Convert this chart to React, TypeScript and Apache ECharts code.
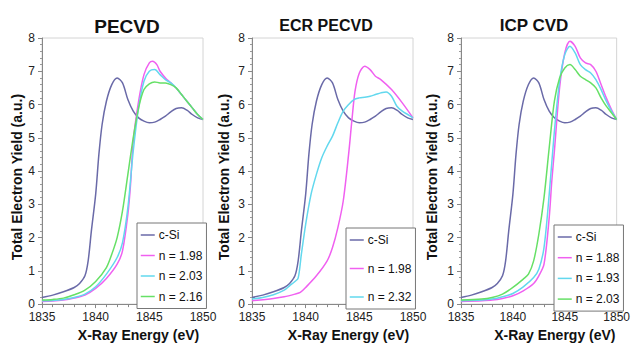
import React, { useEffect, useRef } from "react";
import * as echarts from "echarts";

const FONT = "Liberation Sans, Arial, sans-serif";

const COLOR_CSI = "#6a6aa8";
const COLOR_MAG = "#f060f0";
const COLOR_CYAN = "#62d8ee";
const COLOR_GREEN = "#66e066";

const panelTitles = ["PECVD", "ECR PECVD", "ICP CVD"];
const xTicks = [1835, 1840, 1845, 1850];

// c-Si reference (same in every panel)
const cSiX = [1835, 1836, 1837, 1838, 1838.5, 1839, 1839.3, 1839.6, 1840, 1840.3, 1840.6, 1841, 1841.5, 1842, 1842.5, 1843, 1843.5, 1844, 1844.5, 1845, 1845.5, 1846, 1846.5, 1847, 1847.5, 1848, 1848.5, 1849, 1849.5, 1850];
const cSiY = [0.2, 0.27, 0.37, 0.5, 0.62, 0.85, 1.3, 2.2, 3.3, 4.5, 5.4, 6.1, 6.6, 6.8, 6.65, 6.15, 5.8, 5.6, 5.5, 5.45, 5.47, 5.55, 5.65, 5.78, 5.88, 5.9, 5.83, 5.7, 5.6, 5.55];

// PECVD
const pecvd198X = [1835, 1836, 1837, 1838, 1839, 1840, 1841, 1842, 1842.5, 1843, 1843.25, 1843.5, 1844, 1844.5, 1845, 1845.3, 1845.7, 1846, 1846.5, 1847, 1847.5, 1848, 1848.5, 1849, 1849.5, 1850];
const pecvd198Y = [0.08, 0.09, 0.12, 0.18, 0.27, 0.47, 0.77, 1.2, 1.6, 2.7, 3.6, 4.9, 6.1, 6.9, 7.25, 7.3, 7.2, 7.0, 6.8, 6.65, 6.5, 6.3, 6.1, 5.9, 5.7, 5.55];
const pecvd203X = [1835, 1836, 1837, 1838, 1839, 1840, 1841, 1842, 1842.5, 1843, 1843.5, 1844, 1844.5, 1845, 1845.5, 1846, 1846.5, 1847, 1847.5, 1848, 1848.5, 1849, 1849.5, 1850];
const pecvd203Y = [0.1, 0.11, 0.14, 0.2, 0.3, 0.52, 0.9, 1.4, 1.85, 2.9, 4.6, 5.9, 6.7, 7.0, 7.05, 6.9, 6.75, 6.65, 6.5, 6.3, 6.1, 5.9, 5.7, 5.55];
const pecvd216X = [1835, 1836, 1837, 1838, 1839, 1840, 1841, 1841.5, 1842, 1842.5, 1843, 1843.5, 1844, 1844.5, 1845, 1845.5, 1846, 1846.5, 1847, 1847.5, 1848, 1848.5, 1849, 1849.5, 1850];
const pecvd216Y = [0.12, 0.14, 0.18, 0.28, 0.42, 0.68, 1.1, 1.5, 2.0, 2.8, 3.9, 5.0, 5.9, 6.45, 6.62, 6.68, 6.65, 6.65, 6.6, 6.5, 6.3, 6.1, 5.9, 5.7, 5.55];

// ECR PECVD
const ecr198X = [1835, 1837, 1838, 1839, 1839.5, 1840, 1841, 1842, 1842.5, 1843, 1843.5, 1844, 1844.3, 1844.6, 1845, 1845.5, 1846, 1846.5, 1847, 1848, 1849, 1850];
const ecr198Y = [0.1, 0.17, 0.22, 0.3, 0.35, 0.5, 0.85, 1.3, 1.7, 2.3, 3.1, 4.5, 5.5, 6.4, 6.95, 7.15, 7.05, 6.85, 6.75, 6.45, 6.05, 5.6];
const ecr232X = [1835, 1836, 1837, 1838, 1838.5, 1839, 1839.3, 1839.6, 1840, 1840.5, 1841, 1841.5, 1842, 1842.5, 1843, 1843.5, 1844, 1844.5, 1845, 1845.5, 1846, 1846.5, 1847, 1847.5, 1848, 1848.5, 1849, 1849.5, 1850];
const ecr232Y = [0.15, 0.2, 0.28, 0.42, 0.55, 0.68, 0.78, 1.5, 2.4, 3.3, 3.9, 4.4, 4.75, 5.05, 5.45, 5.8, 6.0, 6.15, 6.2, 6.22, 6.25, 6.3, 6.35, 6.38, 6.25, 5.95, 5.8, 5.7, 5.6];

// ICP CVD
const icp188X = [1835, 1837, 1838, 1839, 1840, 1841, 1842, 1842.5, 1843, 1843.5, 1843.75, 1844, 1844.5, 1845, 1845.5, 1846, 1846.5, 1847, 1847.5, 1848, 1848.5, 1849, 1849.5, 1850];
const icp188Y = [0.08, 0.1, 0.12, 0.17, 0.25, 0.4, 0.62, 0.85, 1.2, 2.6, 3.7, 4.6, 6.5, 7.55, 7.9, 7.75, 7.4, 7.25, 7.2, 7.0, 6.6, 6.2, 5.85, 5.55];
const icp193X = [1835, 1837, 1838, 1839, 1840, 1841, 1842, 1842.5, 1843, 1843.5, 1844, 1844.5, 1845, 1845.5, 1846, 1846.5, 1847, 1847.5, 1848, 1848.5, 1849, 1849.5, 1850];
const icp193Y = [0.1, 0.12, 0.15, 0.22, 0.32, 0.52, 0.8, 1.05, 1.7, 3.3, 5.2, 6.7, 7.5, 7.75, 7.55, 7.2, 7.05, 6.95, 6.75, 6.45, 6.1, 5.8, 5.55];
const icp203X = [1835, 1837, 1838, 1839, 1840, 1841, 1841.5, 1842, 1842.5, 1843, 1843.5, 1844, 1844.5, 1845, 1845.5, 1846, 1846.5, 1847, 1847.5, 1848, 1848.5, 1849, 1849.5, 1850];
const icp203Y = [0.12, 0.15, 0.2, 0.3, 0.5, 0.75, 0.9, 1.3, 2.1, 3.2, 4.7, 6.1, 6.8, 7.1, 7.2, 7.05, 6.85, 6.75, 6.65, 6.5, 6.2, 5.95, 5.75, 5.55];

type S = { name: string; color: string; xs: number[]; ys: number[] };

const panels: S[][] = [
  [
    { name: "c-Si", color: COLOR_CSI, xs: cSiX, ys: cSiY },
    { name: "n = 1.98", color: COLOR_MAG, xs: pecvd198X, ys: pecvd198Y },
    { name: "n = 2.03", color: COLOR_CYAN, xs: pecvd203X, ys: pecvd203Y },
    { name: "n = 2.16", color: COLOR_GREEN, xs: pecvd216X, ys: pecvd216Y },
  ],
  [
    { name: "c-Si", color: COLOR_CSI, xs: cSiX, ys: cSiY },
    { name: "n = 1.98", color: COLOR_MAG, xs: ecr198X, ys: ecr198Y },
    { name: "n = 2.32", color: COLOR_CYAN, xs: ecr232X, ys: ecr232Y },
  ],
  [
    { name: "c-Si", color: COLOR_CSI, xs: cSiX, ys: cSiY },
    { name: "n = 1.88", color: COLOR_MAG, xs: icp188X, ys: icp188Y },
    { name: "n = 1.93", color: COLOR_CYAN, xs: icp193X, ys: icp193Y },
    { name: "n = 2.03", color: COLOR_GREEN, xs: icp203X, ys: icp203Y },
  ],
];

const gridLefts = [42, 252, 461];
const gridWidth = 161;
const gridTop = 38;
const gridHeight = 275;
const titleCenters = [122, 321, 529];
const titleSizes = [19, 16, 17];
const yNameGaps = [17, 21, 22];
const legendBoxes = [
  { left: 137, top: 223, gap: 8.5 },
  { left: 346, top: 228, gap: 16.5 },
  { left: 554, top: 225, gap: 8.7 },
];

export default function App() {
  const ref = useRef<HTMLDivElement>(null);
  useEffect(() => {
    document.body.style.margin = "0";
    if (!ref.current) return;
    const chart = echarts.init(ref.current, undefined, { renderer: "svg" });
    const grid: any[] = [];
    const xAxis: any[] = [];
    const yAxis: any[] = [];
    const series: any[] = [];
    const legend: any[] = [];
    const title: any[] = [];
    panels.forEach((p, i) => {
      grid.push({
        left: gridLefts[i],
        top: gridTop,
        width: gridWidth,
        height: gridHeight,
        show: true,
        borderColor: "#d4d4d4",
        borderWidth: 1,
        backgroundColor: "transparent",
      });
      xAxis.push({
        type: "value",
        gridIndex: i,
        min: xTicks[0],
        max: xTicks[xTicks.length - 1],
        interval: 5,
        name: "X-Ray Energy (eV)",
        nameLocation: "middle",
        nameGap: 23,
        nameTextStyle: { fontFamily: FONT, fontSize: 14, fontWeight: "bold", color: "#111", padding: [0, 0, 0, 32] },
        axisLine: { lineStyle: { color: "#888", width: 1 } },
        axisTick: { show: true, length: 4, lineStyle: { color: "#888" } },
        minorTick: { show: true, splitNumber: 5, length: 3, lineStyle: { color: "#888" } },
        splitLine: { show: false },
        axisLabel: { fontFamily: FONT, fontSize: 12, color: "#222", margin: 7, formatter: (v: number) => String(v) },
      });
      yAxis.push({
        type: "value",
        gridIndex: i,
        min: 0,
        max: 8,
        interval: 1,
        name: "Total Electron Yield (a.u.)",
        nameLocation: "middle",
        nameGap: yNameGaps[i],
        nameTextStyle: { fontFamily: FONT, fontSize: 14, fontWeight: "bold", color: "#111", padding: [0, 12, 0, 0] },
        axisLine: { show: true, lineStyle: { color: "#888", width: 1 } },
        axisTick: { show: true, length: 4, lineStyle: { color: "#888" } },
        minorTick: { show: true, splitNumber: 5, length: 2, lineStyle: { color: "#999" } },
        splitLine: { show: false },
        axisLabel: { fontFamily: FONT, fontSize: 12, color: "#222", margin: 7 },
      });
      p.forEach((s) => {
        series.push({
          type: "line",
          name: s.name,
          xAxisIndex: i,
          yAxisIndex: i,
          data: s.xs.map((x, j) => [x, s.ys[j]]),
          smooth: 0.3,
          showSymbol: false,
          symbol: "none",
          color: s.color,
          lineStyle: { color: s.color, width: 1.5 },
        });
      });
      legend.push({
        orient: "vertical",
        left: legendBoxes[i].left,
        top: legendBoxes[i].top,
        padding: [6, 4, 6, 3],
        itemGap: legendBoxes[i].gap,
        itemWidth: 14,
        itemHeight: 12,
        borderColor: "#777",
        borderWidth: 1,
        backgroundColor: "#fff",
        selectedMode: false,
        textStyle: { fontFamily: FONT, fontSize: 12, color: "#111", padding: [0, 0, 0, -1] },
        data: p.map((s) => ({
          name: s.name,
          itemStyle: { color: "rgba(0,0,0,0)", borderColor: "rgba(0,0,0,0)", borderWidth: 0 },
          lineStyle: { color: s.color, width: 1.5 },
        })),
      });
      title.push({
        text: panelTitles[i],
        left: titleCenters[i],
        top: 12,
        textAlign: "center",
        textStyle: { fontFamily: FONT, fontSize: titleSizes[i], fontWeight: "bold", color: "#111" },
      });
    });
    chart.setOption({
      animation: false,
      backgroundColor: "#fff",
      title,
      grid,
      xAxis,
      yAxis,
      legend,
      series,
    });
    return () => chart.dispose();
  }, []);
  return <div ref={ref} style={{ width: 633, height: 347 }} />;
}
